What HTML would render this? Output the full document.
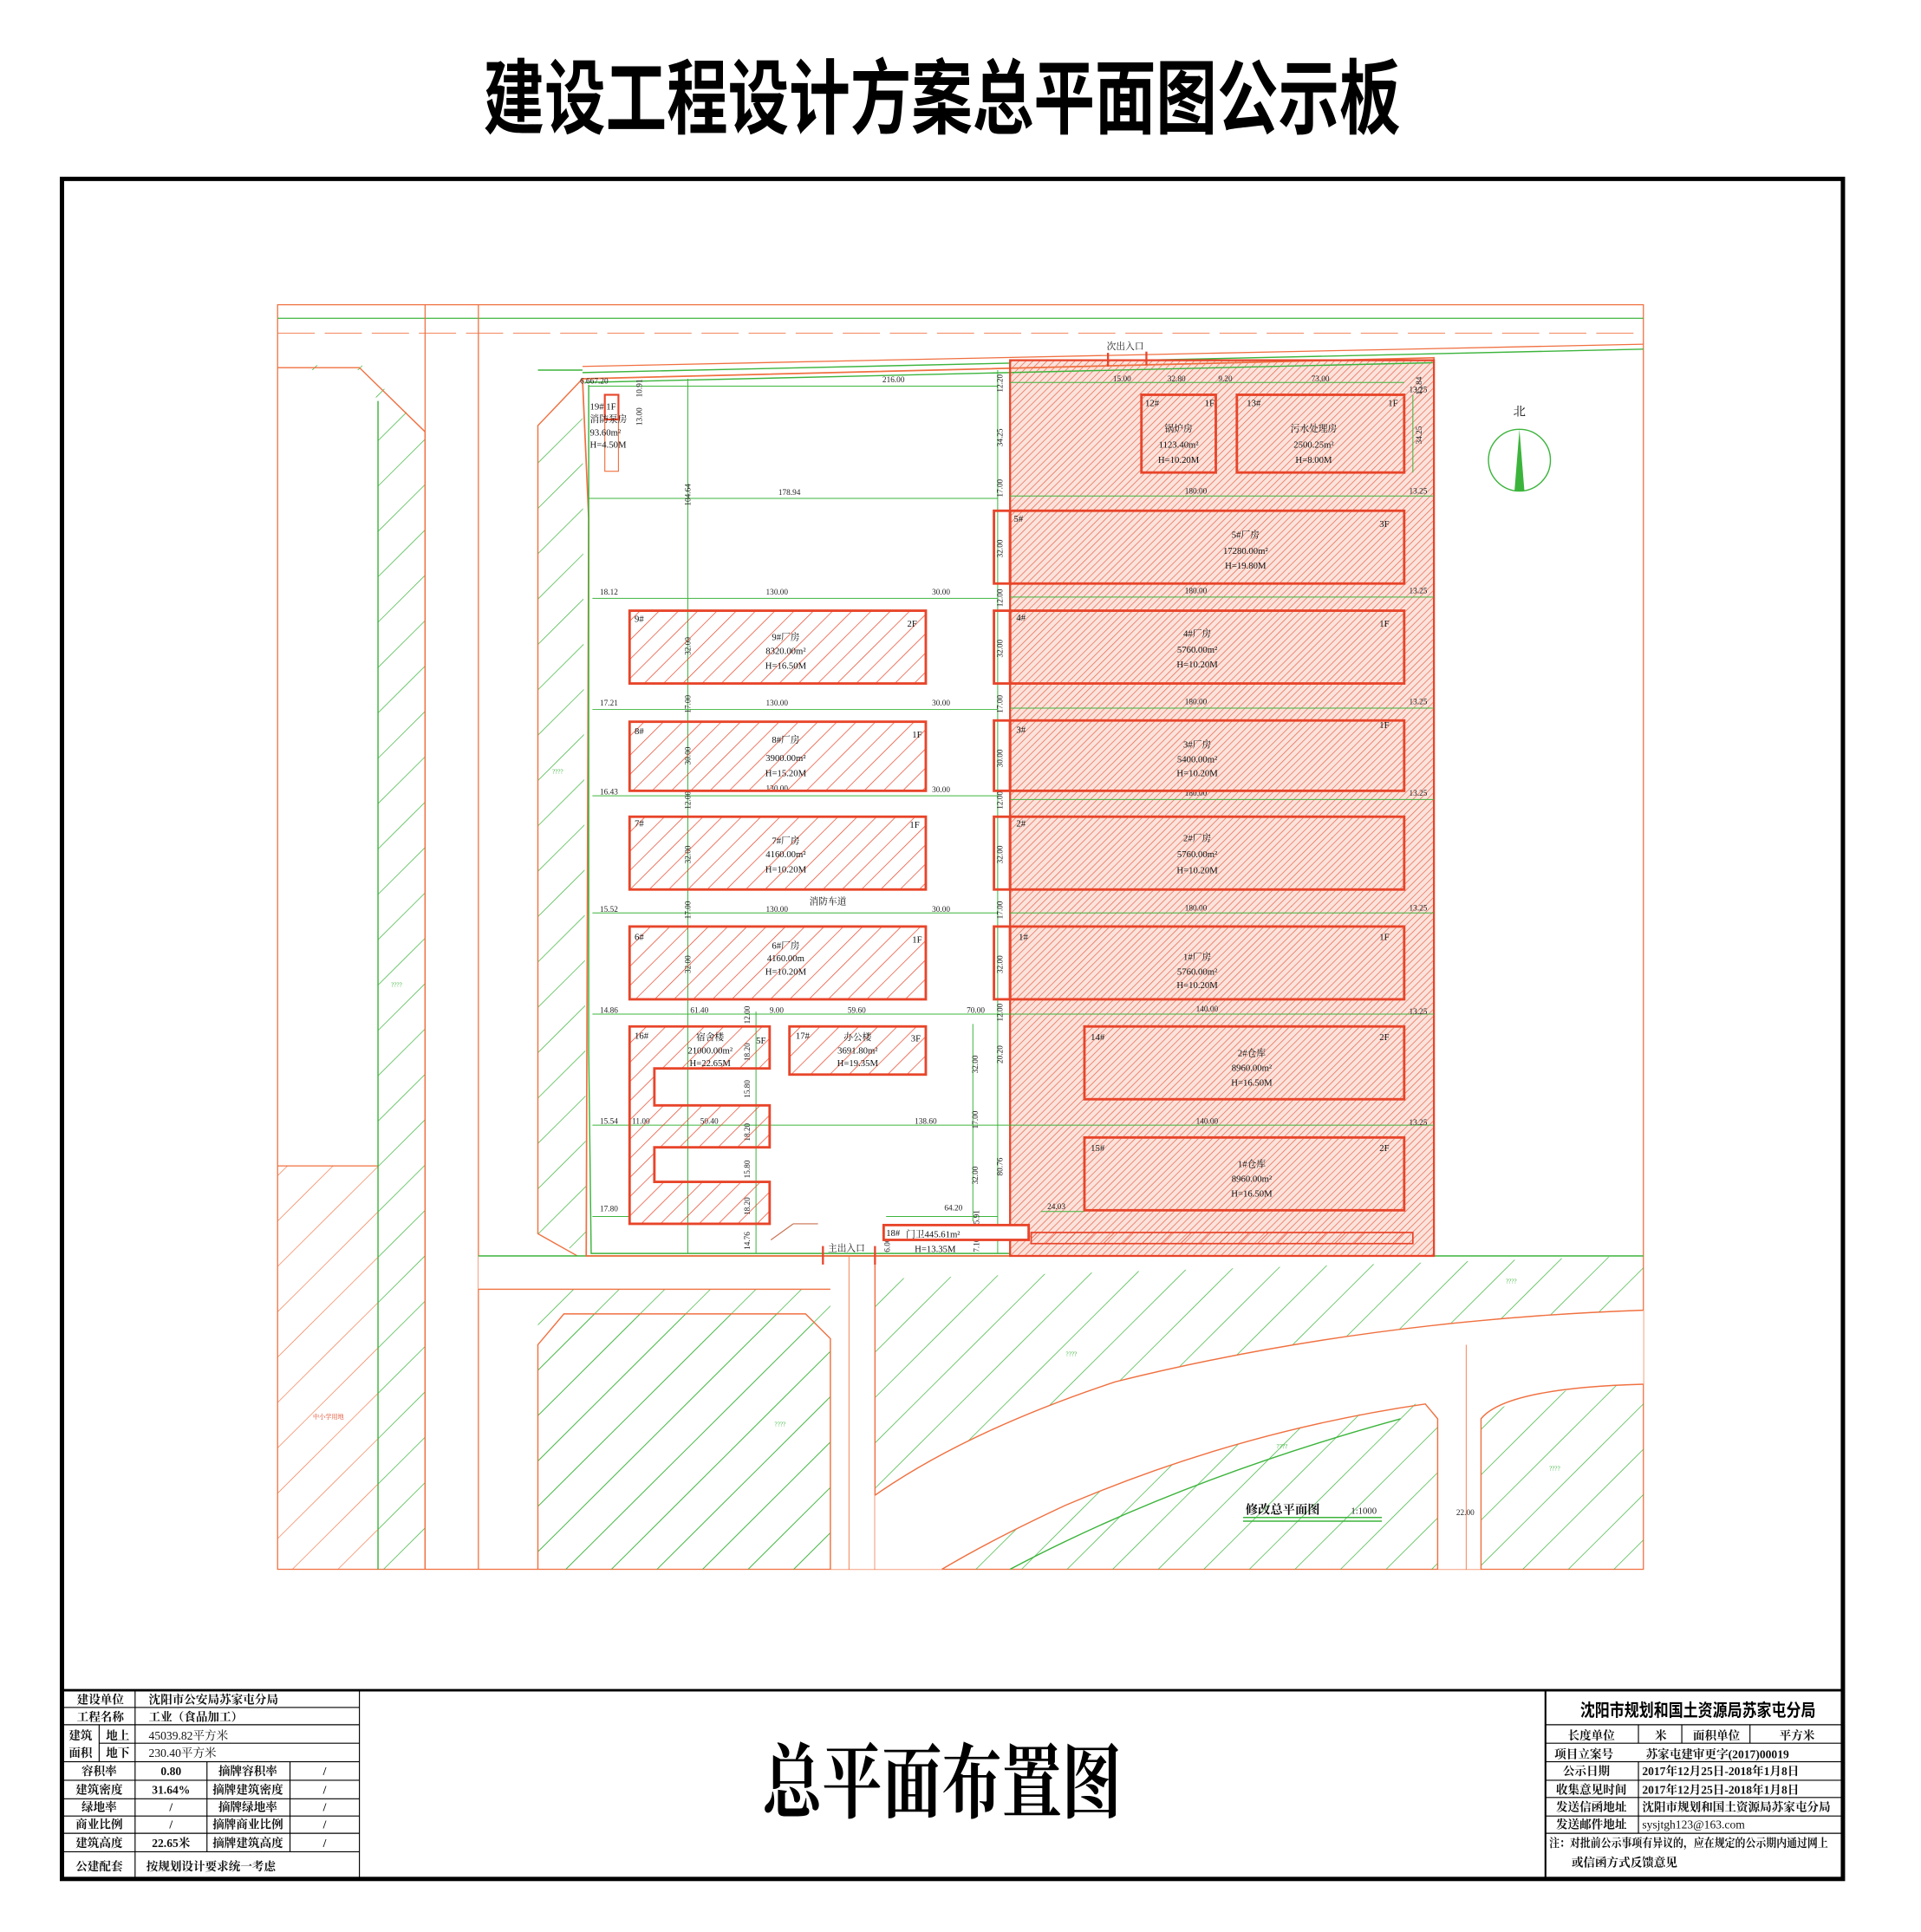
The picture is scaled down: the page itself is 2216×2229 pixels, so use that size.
<!DOCTYPE html>
<html><head><meta charset="utf-8"><style>
html,body{margin:0;padding:0;background:#fff}
svg{display:block}
text{font-family:"Liberation Serif","Noto Serif CJK SC","Noto Sans CJK SC",serif}
.t{font-size:7.5px;fill:#222}
.d{font-size:6.5px;fill:#222}
.b{font-size:7.5px;fill:#111}
.tb{font-size:10px;fill:#111;font-family:"Liberation Sans","Noto Sans CJK SC",sans-serif;font-weight:bold}
</style></head><body>
<svg width="2216" height="2229" viewBox="0 0 1550 1566" preserveAspectRatio="none" xmlns="http://www.w3.org/2000/svg">
<defs>
<pattern id="rh" width="11" height="11" patternUnits="userSpaceOnUse" patternTransform="rotate(45)">
<line x1="0" y1="0" x2="0" y2="11" stroke="#e8452a" stroke-width="1"/></pattern>
<pattern id="rd" width="4" height="4" patternUnits="userSpaceOnUse" patternTransform="rotate(45)">
<rect width="4" height="4" fill="#fbe3dc"/><line x1="0" y1="0" x2="0" y2="4" stroke="#e8664c" stroke-width="1"/></pattern>
<pattern id="gh" width="26" height="26" patternUnits="userSpaceOnUse" patternTransform="rotate(45)">
<line x1="0" y1="0" x2="0" y2="26" stroke="#3cb43c" stroke-width="1"/></pattern>
<pattern id="oh" width="26" height="26" patternUnits="userSpaceOnUse" patternTransform="rotate(45)">
<line x1="0" y1="0" x2="0" y2="26" stroke="#f07040" stroke-width="0.9"/></pattern>
</defs>
<rect width="1550" height="1566" fill="#fff"/>
<!-- title -->
<text x="760" y="103" text-anchor="middle" font-size="66" font-weight="bold" textLength="740" lengthAdjust="spacingAndGlyphs" style="font-family:'Noto Sans CJK SC',sans-serif" fill="#000">建设工程设计方案总平面图公示板</text>
<rect x="50" y="145" width="1437" height="1378" fill="none" stroke="#000" stroke-width="3.5"/>
<line x1="50" y1="1370" x2="1487" y2="1370" stroke="#000" stroke-width="2"/>

<!-- drawing frame -->
<g fill="none" stroke="#f07040" stroke-width="0.9">
<rect x="224" y="247" width="1102" height="1025"/>
<line x1="224" y1="258" x2="1326" y2="258" stroke="#3cb43c"/>
<line x1="343" y1="247" x2="343" y2="1272"/>
<line x1="386" y1="247" x2="386" y2="1272"/>
<line x1="224" y1="945" x2="305" y2="945"/>
</g>
<line x1="224" y1="270" x2="1326" y2="270" stroke="#f07040" stroke-width="0.6" stroke-dasharray="30 8"/>
<!-- left green strip -->
<polygon points="305,325 290,300 224,300 224,296 292,296 343,350 343,1272 305,1272" fill="url(#gh)"/>
<polyline points="224,298 290,298 343,350 343,1272" fill="none" stroke="#f07040" stroke-width="1"/>
<line x1="305" y1="325" x2="305" y2="1272" stroke="#3cb43c" stroke-width="1"/>
<!-- left bottom orange hatch -->
<rect x="224" y="945" width="81" height="327" fill="url(#oh)"/>
<text x="265" y="1150" font-size="5" fill="#e04020" text-anchor="middle">中小学用地</text>
<!-- second strip -->
<polygon points="434,345 470,307 473,1018 434,1000" fill="url(#gh)"/>
<polyline points="470,307 434,345 434,1000 473,1022" fill="none" stroke="#f07040" stroke-width="1"/>
<text x="450" y="627" font-size="5" fill="#3cb43c" text-anchor="middle">????</text>
<text x="320" y="800" font-size="5" fill="#3cb43c" text-anchor="middle">????</text>
<!-- top road lines -->
<line x1="470" y1="302" x2="1326" y2="283" stroke="#3cb43c" stroke-width="1"/>
<line x1="470" y1="297" x2="1326" y2="279" stroke="#f07040" stroke-width="0.9"/>
<line x1="434" y1="300" x2="470" y2="300" stroke="#3cb43c"/>
<!-- bottom green area -->
<polygon points="434,1045 1326,1018 1326,1272 434,1272" fill="url(#gh)"/>
<polygon points="386,1018 706,1018 706,1272 670,1272 670,1045 386,1045" fill="#fff"/>
<polygon points="434,1090 455,1065 650,1065 670,1085 670,1272 434,1272" fill="url(#gh)"/>
<polyline points="434,1272 434,1090 455,1065 650,1065 670,1085 670,1272" fill="none" stroke="#f07040"/>
<polyline points="706,1272 706,1018" fill="none" stroke="#f07040"/>
<polyline points="386,1045 670,1045" fill="none" stroke="#f07040"/>
<line x1="386" y1="1018" x2="1326" y2="1018" stroke="#3cb43c"/>
<!-- curved road -->
<path d="M706,1212 Q780,1160 900,1120 Q1100,1070 1326,1062 L1326,1118 Q1230,1115 1160,1135 L1160,1272 L1195,1272 L1195,1150 Q1230,1125 1326,1122 L1326,1118 Q1230,1115 1160,1135 Q1000,1160 860,1220 Q800,1248 760,1272 L706,1272 Z" fill="#fff"/>
<path d="M706,1212 Q780,1160 900,1120 Q1100,1070 1326,1062" fill="none" stroke="#f07040"/>
<path d="M760,1272 Q800,1248 860,1220 Q1000,1160 1150,1138 L1160,1150 L1160,1272" fill="none" stroke="#f07040"/>
<path d="M1195,1272 L1195,1150 Q1215,1125 1326,1122" fill="none" stroke="#f07040"/>
<path d="M815,1272 Q950,1200 1130,1150" fill="none" stroke="#3cb43c"/>
<line x1="1183" y1="1090" x2="1183" y2="1272" stroke="#f07040" stroke-width="0.6"/>
<text x="1175" y="1228" class="d">22.00</text>
<text x="625" y="1156" font-size="5" fill="#3cb43c">????</text>
<text x="860" y="1099" font-size="5" fill="#3cb43c">????</text>
<text x="1030" y="1174" font-size="5" fill="#3cb43c">????</text>
<text x="1250" y="1192" font-size="5" fill="#3cb43c">????</text>
<text x="1215" y="1040" font-size="5" fill="#3cb43c">????</text>
<line x1="685" y1="1018" x2="685" y2="1272" stroke="#f07040" stroke-width="0.6"/>
<text x="1005" y="1227" font-size="10" font-weight="bold" fill="#111">修改总平面图</text>
<text x="1090" y="1227" class="t">1:1000</text>
<line x1="1003" y1="1230" x2="1115" y2="1230" stroke="#3cb43c"/>
<line x1="1003" y1="1233" x2="1115" y2="1233" stroke="#3cb43c"/>

<!-- site -->
<rect x="815" y="292" width="342" height="726" fill="url(#rd)"/>
<polygon points="470,307 1157,290 1157,1018 473,1018 475,420" fill="none" stroke="#f07040" stroke-width="1.2"/>
<polyline points="472,310 1157,294" fill="none" stroke="#3cb43c" stroke-width="1"/>
<polyline points="475,312 475,850 477,1016 815,1016" fill="none" stroke="#3cb43c" stroke-width="1"/>
<rect x="815" y="292" width="342" height="726" fill="none" stroke="#e8452a" stroke-width="1.6"/>
<!-- dimension lines -->
<g stroke="#3cb43c" stroke-width="0.7" fill="none">
<line x1="555" y1="307" x2="555" y2="1016"/>
<line x1="805" y1="300" x2="805" y2="1016"/>
<line x1="475" y1="313" x2="805" y2="313"/>
<line x1="475" y1="404" x2="805" y2="404"/>
<line x1="478" y1="485" x2="805" y2="485"/>
<line x1="478" y1="575" x2="805" y2="575"/>
<line x1="478" y1="645" x2="805" y2="645"/>
<line x1="478" y1="740" x2="805" y2="740"/>
<line x1="478" y1="822" x2="1157" y2="822"/>
<line x1="478" y1="912" x2="1157" y2="912"/>
<line x1="478" y1="986" x2="508" y2="986"/>
<line x1="610" y1="820" x2="610" y2="1016"/>
<line x1="785" y1="830" x2="785" y2="990"/>
<line x1="715" y1="986" x2="805" y2="986"/>
<line x1="815" y1="310" x2="1133" y2="310"/>
<line x1="815" y1="402" x2="1157" y2="402"/>
<line x1="815" y1="484" x2="1157" y2="484"/>
<line x1="815" y1="574" x2="1157" y2="574"/>
<line x1="815" y1="648" x2="1157" y2="648"/>
<line x1="815" y1="740" x2="1157" y2="740"/>
<line x1="1140" y1="320" x2="1140" y2="383"/>
<line x1="840" y1="982" x2="875" y2="982"/>
</g>
<!-- dimension texts -->
<g class="d">
<text x="468" y="311" class="d">6.667.20</text>
<text x="712" y="310" class="d">216.00</text>
<text x="628" y="401" class="d">178.94</text>
<text x="484" y="482" class="d">18.12</text>
<text x="618" y="482" class="d">130.00</text>
<text x="752" y="482" class="d">30.00</text>
<text x="484" y="572" class="d">17.21</text>
<text x="618" y="572" class="d">130.00</text>
<text x="752" y="572" class="d">30.00</text>
<text x="484" y="644" class="d">16.43</text>
<text x="618" y="641" class="d">130.00</text>
<text x="752" y="642" class="d">30.00</text>
<text x="484" y="739" class="d">15.52</text>
<text x="618" y="739" class="d">130.00</text>
<text x="752" y="739" class="d">30.00</text>
<text x="484" y="821" class="d">14.86</text>
<text x="557" y="821" class="d">61.40</text>
<text x="621" y="821" class="d">9.00</text>
<text x="684" y="821" class="d">59.60</text>
<text x="780" y="821" class="d">70.00</text>
<text x="484" y="911" class="d">15.54</text>
<text x="510" y="911" class="d">11.00</text>
<text x="565" y="911" class="d">50.40</text>
<text x="738" y="911" class="d">138.60</text>
<text x="484" y="982" class="d">17.80</text>
<text x="762" y="981" class="d">64.20</text>
<text x="845" y="980" class="d">24.03</text>
<text x="898" y="309" class="d">15.00</text>
<text x="942" y="309" class="d">32.80</text>
<text x="983" y="309" class="d">9.20</text>
<text x="1058" y="309" class="d">73.00</text>
<text x="956" y="400" class="d">180.00</text>
<text x="956" y="481" class="d">180.00</text>
<text x="956" y="571" class="d">180.00</text>
<text x="956" y="645" class="d">180.00</text>
<text x="956" y="738" class="d">180.00</text>
<text x="965" y="820" class="d">140.00</text>
<text x="965" y="911" class="d">140.00</text>
<text x="1137" y="318" class="d">13.25</text>
<text x="1137" y="400" class="d">13.25</text>
<text x="1137" y="481" class="d">13.25</text>
<text x="1137" y="571" class="d">13.25</text>
<text x="1137" y="645" class="d">13.25</text>
<text x="1137" y="738" class="d">13.25</text>
<text x="1137" y="822" class="d">13.25</text>
<text x="1137" y="912" class="d">13.25</text>
</g>
<g class="d">
<text transform="translate(557,410) rotate(-90)">104.64</text>
<text transform="translate(809,318) rotate(-90)">12.20</text>
<text transform="translate(809,362) rotate(-90)">34.25</text>
<text transform="translate(809,403) rotate(-90)">17.00</text>
<text transform="translate(809,452) rotate(-90)">32.00</text>
<text transform="translate(809,492) rotate(-90)">12.00</text>
<text transform="translate(809,533) rotate(-90)">32.00</text>
<text transform="translate(809,578) rotate(-90)">17.00</text>
<text transform="translate(809,622) rotate(-90)">30.00</text>
<text transform="translate(809,656) rotate(-90)">12.00</text>
<text transform="translate(809,700) rotate(-90)">32.00</text>
<text transform="translate(809,745) rotate(-90)">17.00</text>
<text transform="translate(809,789) rotate(-90)">32.00</text>
<text transform="translate(809,828) rotate(-90)">12.00</text>
<text transform="translate(809,862) rotate(-90)">20.20</text>
<text transform="translate(809,953) rotate(-90)">80.76</text>
<text transform="translate(789,870) rotate(-90)">32.00</text>
<text transform="translate(789,915) rotate(-90)">17.00</text>
<text transform="translate(789,960) rotate(-90)">32.00</text>
<text transform="translate(557,531) rotate(-90)">32.00</text>
<text transform="translate(557,578) rotate(-90)">17.00</text>
<text transform="translate(557,620) rotate(-90)">30.00</text>
<text transform="translate(557,656) rotate(-90)">12.00</text>
<text transform="translate(557,700) rotate(-90)">32.00</text>
<text transform="translate(557,745) rotate(-90)">17.00</text>
<text transform="translate(557,789) rotate(-90)">32.00</text>
<text transform="translate(605,830) rotate(-90)">12.00</text>
<text transform="translate(605,860) rotate(-90)">18.20</text>
<text transform="translate(605,890) rotate(-90)">15.80</text>
<text transform="translate(605,925) rotate(-90)">18.20</text>
<text transform="translate(605,955) rotate(-90)">15.80</text>
<text transform="translate(605,985) rotate(-90)">18.20</text>
<text transform="translate(605,1013) rotate(-90)">14.76</text>
<text transform="translate(1147,320) rotate(-90)">15.84</text>
<text transform="translate(1147,360) rotate(-90)">34.25</text>
<text transform="translate(518,322) rotate(-90)">10.91</text>
<text transform="translate(518,345) rotate(-90)">13.00</text>
<text transform="translate(718,1015) rotate(-90)">6.00</text>
<text transform="translate(790,1015) rotate(-90)">7.106.955.91</text>
</g>

<!-- right buildings -->
<g fill="none" stroke="#e8452a" stroke-width="2">
<rect x="921" y="320" width="60" height="63"/>
<rect x="998" y="320" width="135" height="63"/>
<rect x="815" y="414" width="318" height="59"/>
<rect x="815" y="495" width="318" height="59"/>
<rect x="815" y="584" width="318" height="57"/>
<rect x="815" y="662" width="318" height="59"/>
<rect x="815" y="751" width="318" height="59"/>
<rect x="875" y="832" width="258" height="59"/>
<rect x="875" y="922" width="258" height="59"/>
<rect x="802" y="414" width="13" height="59"/>
<rect x="802" y="495" width="13" height="59"/>
<rect x="802" y="584" width="13" height="57"/>
<rect x="802" y="662" width="13" height="59"/>
<rect x="802" y="751" width="13" height="59"/>
</g>
<rect x="832" y="999" width="308" height="9" fill="url(#rh)" stroke="#e8452a" stroke-width="1.2"/>
<g class="b">
<text x="924" y="329">12#</text><text x="972" y="329">1F</text>
<text x="951" y="350" text-anchor="middle">锅炉房</text><text x="951" y="363" text-anchor="middle">1123.40m²</text><text x="951" y="375" text-anchor="middle">H=10.20M</text>
<text x="1006" y="329">13#</text><text x="1120" y="329">1F</text>
<text x="1060" y="350" text-anchor="middle">污水处理房</text><text x="1060" y="363" text-anchor="middle">2500.25m²</text><text x="1060" y="375" text-anchor="middle">H=8.00M</text>
<text x="818" y="423">5#</text><text x="1113" y="427">3F</text>
<text x="1005" y="436" text-anchor="middle">5#厂房</text><text x="1005" y="449" text-anchor="middle">17280.00m²</text><text x="1005" y="461" text-anchor="middle">H=19.80M</text>
<text x="820" y="503">4#</text><text x="1113" y="508">1F</text>
<text x="966" y="516" text-anchor="middle">4#厂房</text><text x="966" y="529" text-anchor="middle">5760.00m²</text><text x="966" y="541" text-anchor="middle">H=10.20M</text>
<text x="820" y="594">3#</text><text x="1113" y="590">1F</text>
<text x="966" y="606" text-anchor="middle">3#厂房</text><text x="966" y="618" text-anchor="middle">5400.00m²</text><text x="966" y="629" text-anchor="middle">H=10.20M</text>
<text x="820" y="670">2#</text>
<text x="966" y="682" text-anchor="middle">2#厂房</text><text x="966" y="695" text-anchor="middle">5760.00m²</text><text x="966" y="708" text-anchor="middle">H=10.20M</text>
<text x="822" y="762">1#</text><text x="1113" y="762">1F</text>
<text x="966" y="778" text-anchor="middle">1#厂房</text><text x="966" y="790" text-anchor="middle">5760.00m²</text><text x="966" y="801" text-anchor="middle">H=10.20M</text>
<text x="880" y="843">14#</text><text x="1113" y="843">2F</text>
<text x="1010" y="856" text-anchor="middle">2#仓库</text><text x="1010" y="868" text-anchor="middle">8960.00m²</text><text x="1010" y="880" text-anchor="middle">H=16.50M</text>
<text x="880" y="933">15#</text><text x="1113" y="933">2F</text>
<text x="1010" y="946" text-anchor="middle">1#仓库</text><text x="1010" y="958" text-anchor="middle">8960.00m²</text><text x="1010" y="970" text-anchor="middle">H=16.50M</text>
</g>

<!-- left buildings -->
<g fill="url(#rh)" stroke="#e8452a" stroke-width="2">
<rect x="508" y="495" width="239" height="59"/>
<rect x="508" y="585" width="239" height="56"/>
<rect x="508" y="662" width="239" height="59"/>
<rect x="508" y="751" width="239" height="59"/>
<rect x="637" y="832" width="110" height="39"/>
<polygon points="508,832 621,832 621,866 528,866 528,896 621,896 621,930 528,930 528,958 621,958 621,992 508,992"/>
<rect x="713" y="993" width="117" height="12" fill="#fff"/>
</g>
<rect x="488" y="320" width="11" height="62" fill="none" stroke="#f07040" stroke-width="0.8"/>
<rect x="488" y="320" width="11" height="20" fill="none" stroke="#e8452a" stroke-width="1.5"/>
<line x1="622" y1="1005" x2="640" y2="992" stroke="#c87050" stroke-width="0.8"/>
<line x1="640" y1="992" x2="660" y2="992" stroke="#c87050" stroke-width="0.8"/>
<g class="b">
<text x="476" y="332">19# 1F</text><text x="476" y="342">消防泵房</text><text x="476" y="353">93.60m²</text><text x="476" y="363">H=4.50M</text>
<text x="512" y="504">9#</text><text x="732" y="508">2F</text>
<text x="634" y="519" text-anchor="middle">9#厂房</text><text x="634" y="530" text-anchor="middle">8320.00m²</text><text x="634" y="542" text-anchor="middle">H=16.50M</text>
<text x="512" y="595">8#</text><text x="736" y="598">1F</text>
<text x="634" y="602" text-anchor="middle">8#厂房</text><text x="634" y="617" text-anchor="middle">3900.00m²</text><text x="634" y="629" text-anchor="middle">H=15.20M</text>
<text x="512" y="670">7#</text><text x="734" y="671">1F</text>
<text x="634" y="684" text-anchor="middle">7#厂房</text><text x="634" y="695" text-anchor="middle">4160.00m²</text><text x="634" y="707" text-anchor="middle">H=10.20M</text>
<text x="668" y="733" text-anchor="middle">消防车道</text>
<text x="512" y="762">6#</text><text x="736" y="764">1F</text>
<text x="634" y="769" text-anchor="middle">6#厂房</text><text x="634" y="779" text-anchor="middle">4160.00m</text><text x="634" y="790" text-anchor="middle">H=10.20M</text>
<text x="512" y="842">16#</text><text x="610" y="846">5F</text>
<text x="573" y="843" text-anchor="middle">宿舍楼</text><text x="573" y="854" text-anchor="middle">21000.00m²</text><text x="573" y="864" text-anchor="middle">H=22.65M</text>
<text x="642" y="842">17#</text><text x="735" y="844">3F</text>
<text x="692" y="843" text-anchor="middle">办公楼</text><text x="692" y="854" text-anchor="middle">3691.80m²</text><text x="692" y="864" text-anchor="middle">H=19.35M</text>
<text x="715" y="1002">18#</text><text x="731" y="1003">门卫445.61m²</text><text x="738" y="1015">H=13.35M</text>
<text x="668" y="1014">主出入口</text>
<text x="893" y="283">次出入口</text>
</g>
<g stroke="#e8452a" stroke-width="1.6">
<line x1="664" y1="1010" x2="664" y2="1025"/><line x1="706" y1="1010" x2="706" y2="1025"/>
<line x1="894" y1="286" x2="894" y2="297"/><line x1="925" y1="285" x2="925" y2="296"/>
</g>
<!-- north arrow -->
<circle cx="1226" cy="373" r="25" fill="none" stroke="#3cb43c" stroke-width="1"/>
<polygon points="1226,348 1230,398 1222,398" fill="#3cb43c"/>
<text x="1226" y="337" text-anchor="middle" font-size="10" fill="#111">北</text>

<!-- bottom left table -->
<g stroke="#000" stroke-width="0.8" fill="none">
<line x1="290" y1="1370" x2="290" y2="1523"/>
<line x1="109" y1="1370" x2="109" y2="1523"/>
<line x1="80" y1="1398" x2="80" y2="1428"/>
<line x1="167" y1="1428" x2="167" y2="1501"/>
<line x1="234" y1="1428" x2="234" y2="1501"/>
<line x1="50" y1="1384" x2="290" y2="1384"/>
<line x1="50" y1="1398" x2="290" y2="1398"/>
<line x1="80" y1="1413" x2="290" y2="1413"/>
<line x1="50" y1="1428" x2="290" y2="1428"/>
<line x1="50" y1="1443" x2="290" y2="1443"/>
<line x1="50" y1="1458" x2="290" y2="1458"/>
<line x1="50" y1="1472" x2="290" y2="1472"/>
<line x1="50" y1="1486" x2="290" y2="1486"/>
<line x1="50" y1="1501" x2="290" y2="1501"/>
</g>
<g class="tb" style="font-size:9.5px">
<text x="81" y="1381" text-anchor="middle">建设单位</text><text x="120" y="1381">沈阳市公安局苏家屯分局</text>
<text x="81" y="1395" text-anchor="middle">工程名称</text><text x="120" y="1395">工业（食品加工）</text>
<text x="65" y="1410" text-anchor="middle">建筑</text><text x="95" y="1410" text-anchor="middle">地上</text><text x="120" y="1410" style="font-weight:normal">45039.82平方米</text>
<text x="65" y="1424" text-anchor="middle">面积</text><text x="95" y="1424" text-anchor="middle">地下</text><text x="120" y="1424" style="font-weight:normal">230.40平方米</text>
<text x="80" y="1439" text-anchor="middle">容积率</text><text x="138" y="1439" text-anchor="middle">0.80</text><text x="200" y="1439" text-anchor="middle">摘牌容积率</text><text x="262" y="1439" text-anchor="middle">/</text>
<text x="80" y="1454" text-anchor="middle">建筑密度</text><text x="138" y="1454" text-anchor="middle">31.64%</text><text x="200" y="1454" text-anchor="middle">摘牌建筑密度</text><text x="262" y="1454" text-anchor="middle">/</text>
<text x="80" y="1468" text-anchor="middle">绿地率</text><text x="138" y="1468" text-anchor="middle">/</text><text x="200" y="1468" text-anchor="middle">摘牌绿地率</text><text x="262" y="1468" text-anchor="middle">/</text>
<text x="80" y="1482" text-anchor="middle">商业比例</text><text x="138" y="1482" text-anchor="middle">/</text><text x="200" y="1482" text-anchor="middle">摘牌商业比例</text><text x="262" y="1482" text-anchor="middle">/</text>
<text x="80" y="1497" text-anchor="middle">建筑高度</text><text x="138" y="1497" text-anchor="middle">22.65米</text><text x="200" y="1497" text-anchor="middle">摘牌建筑高度</text><text x="262" y="1497" text-anchor="middle">/</text>
<text x="80" y="1516" text-anchor="middle">公建配套</text><text x="118" y="1516">按规划设计要求统一考虑</text>
</g>
<!-- center title -->
<text x="760" y="1468" text-anchor="middle" font-size="66" font-weight="bold" textLength="290" lengthAdjust="spacingAndGlyphs" style="font-family:'Noto Serif CJK SC','Noto Sans CJK SC',serif" fill="#000">总平面布置图</text>
<!-- right table -->
<g stroke="#000" stroke-width="0.8" fill="none">
<line x1="1247" y1="1370" x2="1247" y2="1523" stroke-width="1.5"/>
<line x1="1247" y1="1398" x2="1487" y2="1398"/>
<line x1="1247" y1="1413" x2="1487" y2="1413"/>
<line x1="1247" y1="1428" x2="1487" y2="1428"/>
<line x1="1247" y1="1443" x2="1487" y2="1443"/>
<line x1="1247" y1="1457" x2="1487" y2="1457"/>
<line x1="1247" y1="1472" x2="1487" y2="1472"/>
<line x1="1247" y1="1486" x2="1487" y2="1486"/>
<line x1="1322" y1="1398" x2="1322" y2="1413"/>
<line x1="1322" y1="1428" x2="1322" y2="1486"/>
<line x1="1357" y1="1398" x2="1357" y2="1413"/>
<line x1="1412" y1="1398" x2="1412" y2="1413"/>
</g>
<text x="1370" y="1391" text-anchor="middle" font-size="14" font-weight="bold" textLength="190" lengthAdjust="spacingAndGlyphs" style="font-family:'Noto Sans CJK SC',sans-serif">沈阳市规划和国土资源局苏家屯分局</text>
<g class="tb" style="font-size:9.5px">
<text x="1284" y="1410" text-anchor="middle">长度单位</text><text x="1340" y="1410" text-anchor="middle">米</text><text x="1385" y="1410" text-anchor="middle">面积单位</text><text x="1450" y="1410" text-anchor="middle">平方米</text>
<text x="1278" y="1425" text-anchor="middle">项目立案号</text><text x="1328" y="1425">苏家屯建审更字(2017)00019</text>
<text x="1280" y="1439" text-anchor="middle">公示日期</text><text x="1325" y="1439">2017年12月25日-2018年1月8日</text>
<text x="1284" y="1454" text-anchor="middle">收集意见时间</text><text x="1325" y="1454">2017年12月25日-2018年1月8日</text>
<text x="1284" y="1468" text-anchor="middle">发送信函地址</text><text x="1325" y="1468">沈阳市规划和国土资源局苏家屯分局</text>
<text x="1284" y="1482" text-anchor="middle">发送邮件地址</text><text x="1325" y="1482" style="font-weight:normal">sysjtgh123@163.com</text>
<text x="1250" y="1497" textLength="225" lengthAdjust="spacingAndGlyphs">注：对批前公示事项有异议的，应在规定的公示期内通过网上</text>
<text x="1268" y="1513">或信函方式反馈意见</text>
</g>
</svg>
</body></html>
